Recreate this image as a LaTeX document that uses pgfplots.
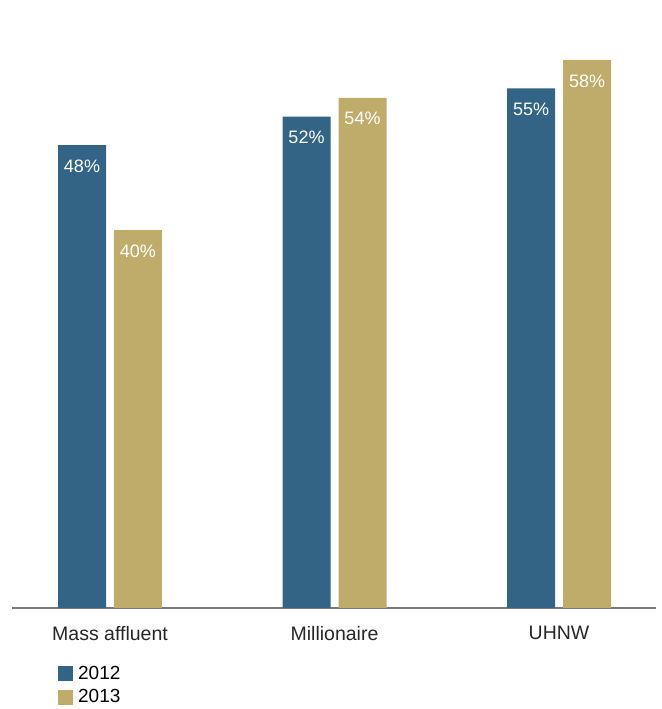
\documentclass[border=0pt]{standalone}
\usepackage{fontspec}
\setmainfont{Liberation Sans}
\usepackage{pgfplots}
\pgfplotsset{compat=1.18}
\usepackage{pgfplotstable}
\definecolor{cblue}{RGB}{51,100,133}
\definecolor{cgold}{RGB}{192,172,106}
\definecolor{cline}{RGB}{120,120,120}
\pgfplotstableread{
x y lab
0 49 48\%
1 52 52\%
2 55 55\%
}\dataA
\pgfplotstableread{
x y lab
0 40 40\%
1 54 54\%
2 58 58\%
}\dataB
\begin{document}
\begin{tikzpicture}
\path (0,0) rectangle (662bp,709bp);
\begin{axis}[
  at={(12bp,101bp)}, anchor=south west,
  scale only axis, width=644bp, height=608bp,
  xmin=-0.4365, xmax=2.432, ymin=0, ymax=64.35,
  clip=false,
  ybar, bar width=0.2138,
  axis x line*=bottom, axis y line=none,
  x axis line style={cline, line width=1.4bp, -},
  xtick={0,1,2},
  xticklabels={Mass affluent, Millionaire, UHNW},
  major tick length=0pt,
  xticklabel style={font=\fontsize{19.5bp}{22bp}\selectfont, color=black!85, inner sep=0pt, anchor=north, yshift=-18bp},
  nodes near coords,
  point meta=explicit symbolic,
  every node near coord/.append style={font=\fontsize{18bp}{21bp}\selectfont, color=white, anchor=north, inner sep=0pt, yshift=-14.5bp},
  legend style={at={(rel axis cs:0.0714,-0.0955)}, anchor=north west, draw=none, fill=none, inner sep=0pt,
    font=\fontsize{19bp}{22bp}\selectfont, row sep=8bp,
    nodes={inner sep=0pt, text depth=0pt}},
  legend cell align=left,
  legend image code/.code={\fill[#1] (0bp,-8.5bp) rectangle (15bp,6.5bp);},
]
\addplot[fill=cblue, draw=none, bar shift=-0.1247] table[x=x, y=y, meta=lab] {\dataA};
\addplot[fill=cgold, draw=none, bar shift=0.1247] table[x=x, y=y, meta=lab] {\dataB};
\legend{\hspace{5bp}2012, \hspace{5bp}2013}
\end{axis}
\end{tikzpicture}
\end{document}
